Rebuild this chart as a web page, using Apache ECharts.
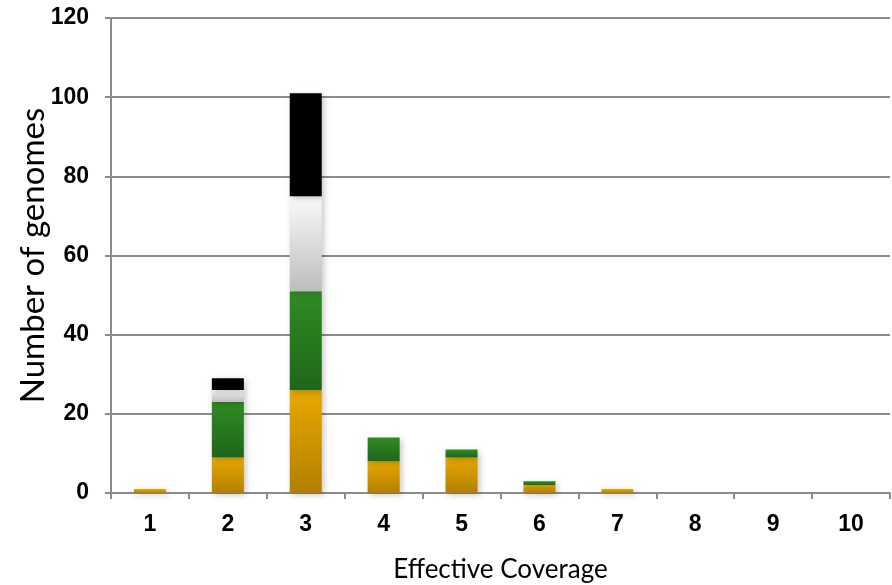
<!DOCTYPE html>
<html>
<head>
<meta charset="utf-8">
<script src="https://cdn.jsdelivr.net/npm/echarts@6/dist/echarts.min.js"></script>
<style>
  html, body { margin: 0; padding: 0; background: #fff; }
  #chart { width: 892px; height: 585px; }
</style>
</head>
<body>
<div id="chart"></div>
<script>
// Coverage categories along the x axis
const coverage = ['1', '2', '3', '4', '5', '6', '7', '8', '9', '10'];

// Genome counts per coverage level, one array per stacked group
const orangeCounts = [1, 9, 26, 8, 9, 2, 1, 0, 0, 0];
const greenCounts  = [0, 14, 25, 6, 2, 1, 0, 0, 0, 0];
const whiteCounts  = [0, 3, 24, 0, 0, 0, 0, 0, 0, 0];
const blackCounts  = [0, 3, 26, 0, 0, 0, 0, 0, 0, 0];

// Y axis ticks
const yTicks = [0, 20, 40, 60, 80, 100, 120];

function vGrad(top, bottom) {
  return new echarts.graphic.LinearGradient(0, 0, 0, 1, [
    { offset: 0, color: top },
    { offset: 1, color: bottom }
  ]);
}

const shadow = {
  shadowBlur: 6,
  shadowColor: 'rgba(0,0,0,0.22)',
  shadowOffsetX: 2,
  shadowOffsetY: 2
};

function stackSeries(name, data, color) {
  return {
    name: name,
    type: 'bar',
    stack: 'genomes',
    data: data,
    barWidth: 32,
    itemStyle: Object.assign({ color: color }, shadow),
    emphasis: { disabled: true }
  };
}

const tickFont = {
  fontFamily: '"Liberation Sans", Arial, sans-serif',
  fontWeight: 'bold',
  fontSize: 23,
  color: '#000'
};

const chart = echarts.init(document.getElementById('chart'), null, { renderer: 'canvas' });

chart.setOption({
  animation: false,
  grid: {
    left: 111, right: 2, top: 18, bottom: 92,
    containLabel: false,
    outerBoundsMode: 'none'
  },
  xAxis: {
    type: 'category',
    data: coverage,
    boundaryGap: true,
    name: 'Effective Coverage',
    nameLocation: 'middle',
    nameGap: 64,
    nameMoveOverlap: false,
    nameTextStyle: { fontFamily: 'Lato, "Open Sans", sans-serif', fontSize: 26, color: '#000' },
    axisLine: { show: true, lineStyle: { color: '#8c8c8c', width: 2 } },
    axisTick: { show: true, alignWithLabel: false, length: 6, lineStyle: { color: '#8c8c8c', width: 2 } },
    axisLabel: Object.assign({ margin: 20 }, tickFont),
    splitLine: { show: false }
  },
  yAxis: {
    type: 'value',
    min: yTicks[0],
    max: yTicks[yTicks.length - 1],
    interval: 20,
    name: 'Number of genomes',
    nameLocation: 'middle',
    nameGap: 61,
    nameMoveOverlap: false,
    nameTextStyle: { fontFamily: 'Lato, "Open Sans", sans-serif', fontSize: 33, color: '#000' },
    axisLine: { show: true, lineStyle: { color: '#8c8c8c', width: 2 } },
    axisTick: { show: true, length: 6, lineStyle: { color: '#8c8c8c', width: 2 } },
    axisLabel: Object.assign({ margin: 22 }, tickFont),
    splitLine: { show: true, lineStyle: { color: '#8c8c8c', width: 2 } }
  },
  series: [
    stackSeries('orange', orangeCounts, vGrad('#e9a800', '#b27f00')),
    stackSeries('green', greenCounts, vGrad('#2f8c23', '#1f661a')),
    stackSeries('white', whiteCounts, vGrad('#fafafa', '#bdbdbd')),
    stackSeries('black', blackCounts, '#000000')
  ]
});
</script>
</body>
</html>
